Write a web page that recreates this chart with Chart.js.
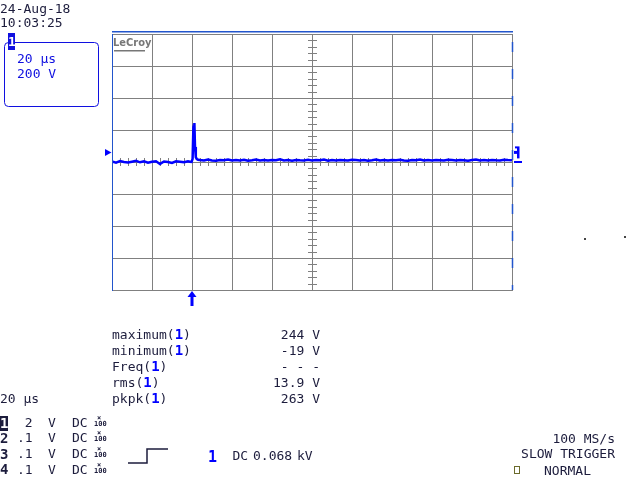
<!DOCTYPE html>
<html>
<head>
<meta charset="utf-8">
<script src="https://cdn.jsdelivr.net/npm/chart.js@4.4.1/dist/chart.umd.min.js"></script>
<style>
html, body { margin: 0; padding: 0; background: #fff; }
#wrap { position: relative; width: 640px; height: 480px; overflow: hidden; }
#scope { position: absolute; left: 0; top: 0; }
.t { position: absolute; font: 13px/13px "DejaVu Sans Mono", monospace; color: #1c1c3c; white-space: pre; }
.blue { color: #1010e0; }
.one { color: #0000ff; font-weight: bold; font-size: 14px; }
.ch { position: absolute; font: bold 14px/14px "DejaVu Sans Mono", monospace; color: #1c1c3c; }
.tiny { position: absolute; font: bold 7px/7px "DejaVu Sans Mono", monospace; color: #1c1c3c; white-space: pre; }
.r { text-align: right; }
</style>
</head>
<body>
<div id="wrap">
	<canvas id="scope" width="640" height="480"></canvas>

	<div class="t" style="left:0;top:2px">24-Aug-18</div>
	<div class="t" style="left:0;top:16px">10:03:25</div>

	<div class="ch" style="left:8px;top:33px;width:7px;height:17px;line-height:17px;background:#1010e0;color:#fff;text-align:center;font-size:13px">1</div>
	<div class="t blue" style="left:17px;top:52px">20 µs</div>
	<div class="t blue" style="left:17px;top:67px">200 V</div>

	<div class="t" style="left:113px;top:37px;font:bold 11px/11px 'DejaVu Sans Condensed',sans-serif;color:#777">LeCroy</div>

	<div class="t" style="left:112px;top:327.5px">maximum(<span class="one">1</span>)</div>
	<div class="t" style="left:112px;top:343.5px">minimum(<span class="one">1</span>)</div>
	<div class="t" style="left:112px;top:359.5px">Freq(<span class="one">1</span>)</div>
	<div class="t" style="left:112px;top:375.5px">rms(<span class="one">1</span>)</div>
	<div class="t" style="left:112px;top:391.5px">pkpk(<span class="one">1</span>)</div>
	<div class="t r" style="left:200px;width:120px;top:327.5px">244 V</div>
	<div class="t r" style="left:200px;width:120px;top:343.5px">-19 V</div>
	<div class="t r" style="left:200px;width:120px;top:359.5px">- - -</div>
	<div class="t r" style="left:200px;width:120px;top:375.5px">13.9 V</div>
	<div class="t r" style="left:200px;width:120px;top:391.5px">263 V</div>

	<div class="t" style="left:0;top:392px">20 µs</div>

	<div class="ch" style="left:0;top:415.5px;width:8px;height:15px;line-height:15px;background:#1c1c3c;color:#fff;text-align:center">1</div>
	<div class="ch" style="left:0;top:430.5px">2</div>
	<div class="ch" style="left:0;top:446.5px">3</div>
	<div class="ch" style="left:0;top:462px">4</div>

	<div class="t" style="left:17px;top:415.5px"> 2</div>
	<div class="t" style="left:17px;top:431.3px">.1</div>
	<div class="t" style="left:17px;top:447.3px">.1</div>
	<div class="t" style="left:17px;top:462.5px">.1</div>
	<div class="t" style="left:48px;top:415.5px">V</div>
	<div class="t" style="left:48px;top:431.3px">V</div>
	<div class="t" style="left:48px;top:447.3px">V</div>
	<div class="t" style="left:48px;top:462.5px">V</div>
	<div class="t" style="left:72px;top:415.5px">DC</div>
	<div class="t" style="left:72px;top:431.3px">DC</div>
	<div class="t" style="left:72px;top:447.3px">DC</div>
	<div class="t" style="left:72px;top:462.5px">DC</div>
	<div class="tiny" style="left:97px;top:414.5px">×</div>
	<div class="tiny" style="left:94px;top:420.5px">100</div>
	<div class="tiny" style="left:97px;top:430px">×</div>
	<div class="tiny" style="left:94px;top:436px">100</div>
	<div class="tiny" style="left:97px;top:446px">×</div>
	<div class="tiny" style="left:94px;top:452px">100</div>
	<div class="tiny" style="left:97px;top:461.5px">×</div>
	<div class="tiny" style="left:94px;top:467.5px">100</div>

	<div class="t" style="left:208px;top:449.5px;color:#0000ff;font-weight:bold;font-size:15px;line-height:15px">1</div>
	<div class="t" style="left:232.5px;top:449px;word-spacing:-3px">DC 0.068 kV</div>

	<div class="t r" style="left:515px;width:100px;top:432.3px">100 MS/s</div>
	<div class="t r" style="left:495px;width:120px;top:447.3px">SLOW TRIGGER</div>
	<div class="t" style="left:544px;top:464px">NORMAL</div>
</div>

<script>
// time base 20 µs/div, 200 V/div
const timeRange = [-40, 160]
const voltRange = [-800, 800]
const timeStep = 20
const voltStep = 200

// channel 1 trace, sample times in µs
const sampleTimes = [
	-40, -38, -36, -34, -32, -30, -28, -26, -24, -22,
	-20, -18, -16, -14, -12, -10, -8, -6, -4, -2,
	-1, -0.2, 0.3, 0.6, 0.9, 1.2, 1.5, 1.9, 2.4, 3,
	4, 6, 8, 10, 12, 14, 16, 18, 20, 22,
	24, 26, 28, 30, 32, 34, 36, 38, 40, 42,
	44, 46, 48, 50, 52, 54, 56, 58, 60, 62,
	64, 66, 68, 70, 72, 74, 76, 78, 80, 82,
	84, 86, 88, 90, 92, 94, 96, 98, 100, 102,
	104, 106, 108, 110, 112, 114, 116, 118, 120, 122,
	124, 126, 128, 130, 132, 134, 136, 138, 140, 142,
	144, 146, 148, 150, 152, 154, 156, 158, 160,
]
// channel 1 volts
const sampleVolts = [
	3, -4, 6, 0, -3, 2, 7, -2, 4, -5,
	1, 5, -12, 3, 0, -6, 4, 2, -2, 5,
	2, 1, 20, 170, 150, 244, 94, 30, 18, 14,
	12, 9, 15, 10, 8, 13, 11, 16, 9, 12,
	10, 14, 8, 11, 15, 10, 12, 9, 13, 11,
	17, 10, 12, 8, 13, 11, 10, 14, 9, 12,
	11, 15, 8, 12, 10, 13, 11, 9, 14, 12,
	10, 13, 8, 11, 16, 10, 12, 9, 13, 11,
	14, 10, 8, 12, 11, 16, 9, 12, 10, 13,
	11, 9, 14, 12, 10, 13, 11, 8, 12, 15,
	10, 12, 9, 13, 11, 10, 14, 12, 11,
]

const GRID = '#808080'
const FRAME = '#2255cc'
const TRACE = '#0000ff'
const INK = '#1c1c3c'

const scopeDecor = {
	id: 'scopeDecor',
	beforeDatasetsDraw(chart) {
		const { ctx, scales: { x, y } } = chart
		const cx = x.getPixelForValue(60)
		const cy = y.getPixelForValue(0)
		ctx.save()
		ctx.strokeStyle = GRID
		ctx.lineWidth = 1
		ctx.beginPath()
		// minor ticks on the centre cross
		for (let v = voltRange[0]; v <= voltRange[1]; v += voltStep / 5) {
			const py = Math.round(y.getPixelForValue(v)) + 0.5
			ctx.moveTo(cx - 4, py)
			ctx.lineTo(cx + 5, py)
		}
		for (let t = timeRange[0]; t <= timeRange[1]; t += timeStep / 5) {
			const px = Math.round(x.getPixelForValue(t)) + 0.5
			ctx.moveTo(px, cy - 4)
			ctx.lineTo(px, cy + 4)
		}
		ctx.stroke()
		ctx.restore()
	},
	afterDatasetsDraw(chart) {
		const { ctx, chartArea: a, scales: { x, y } } = chart
		ctx.save()
		// frame
		ctx.fillStyle = FRAME
		ctx.fillRect(a.left, a.top - 3, a.right - a.left + 1, 1.5)
		ctx.fillRect(a.left, a.top, 1, a.bottom - a.top)
		ctx.strokeStyle = FRAME
		ctx.lineWidth = 1.5
		ctx.setLineDash([10, 17])
		ctx.beginPath()
		ctx.moveTo(a.right + 0.5, a.top + 8)
		ctx.lineTo(a.right + 0.5, a.bottom)
		ctx.stroke()
		ctx.setLineDash([])

		// ground marker left
		const gy = y.getPixelForValue(60)
		ctx.fillStyle = TRACE
		ctx.beginPath()
		ctx.moveTo(105, gy - 3.5)
		ctx.lineTo(105, gy + 3.5)
		ctx.lineTo(111.5, gy)
		ctx.closePath()
		ctx.fill()

		// channel marker right
		const my = y.getPixelForValue(60)
		ctx.fillRect(a.right + 5, my - 6, 2.5, 12)
		ctx.fillRect(a.right + 2, my - 1.5, 3, 3)
		ctx.fillRect(a.right + 3, my - 6, 2, 2)
		ctx.fillRect(a.right + 2, y.getPixelForValue(0) - 1, 8, 2)

		// trigger arrow
		const tx = x.getPixelForValue(0)
		ctx.fillRect(tx - 1.5, a.bottom + 5, 3, 11)
		ctx.beginPath()
		ctx.moveTo(tx - 4.5, a.bottom + 7)
		ctx.lineTo(tx + 4.5, a.bottom + 7)
		ctx.lineTo(tx, a.bottom + 1)
		ctx.closePath()
		ctx.fill()

		// channel box
		ctx.strokeStyle = '#1010e0'
		ctx.lineWidth = 1
		ctx.beginPath()
		ctx.roundRect(4.5, 42.5, 94, 64, 4)
		ctx.stroke()

		// LeCroy underline
		ctx.fillStyle = '#777'
		ctx.fillRect(114, 50, 31, 1.5)

		// trigger slope symbol
		ctx.strokeStyle = INK
		ctx.lineWidth = 1.5
		ctx.beginPath()
		ctx.moveTo(128, 463)
		ctx.lineTo(147, 463)
		ctx.lineTo(147, 449)
		ctx.lineTo(168, 449)
		ctx.stroke()

		// status box and stray dots
		ctx.strokeStyle = '#6b6b2b'
		ctx.lineWidth = 1
		ctx.strokeRect(514.5, 466.5, 5, 7)
		ctx.fillStyle = '#444'
		ctx.fillRect(584, 238, 2, 2)
		ctx.fillRect(624, 236, 2, 2)
		ctx.restore()
	},
}

window.addEventListener('DOMContentLoaded', () => {
	const scopeCtx = document.getElementById('scope')
	new Chart(scopeCtx.getContext('2d'), {
		type: 'line',
		data: {
			datasets: [
				{
					label: 'C1',
					data: sampleTimes.map((t, i) => ({ x: t, y: sampleVolts[i] })),
					borderColor: TRACE,
					borderWidth: 2.5,
					pointRadius: 0,
					tension: 0,
				},
			],
		},
		options: {
			responsive: false,
			animation: false,
			events: [],
			layout: {
				padding: { left: 112, right: 128, top: 34, bottom: 190 },
			},
			plugins: {
				legend: { display: false },
				tooltip: { enabled: false },
			},
			scales: {
				x: {
					type: 'linear',
					min: timeRange[0],
					max: timeRange[1],
					ticks: { display: false, stepSize: timeStep },
					grid: { color: GRID, lineWidth: 1, drawTicks: false },
					border: { color: GRID, width: 1 },
					afterFit: (s) => { s.height = 0 },
				},
				y: {
					min: voltRange[0],
					max: voltRange[1],
					ticks: { display: false, stepSize: voltStep },
					grid: { color: GRID, lineWidth: 1, drawTicks: false },
					border: { color: FRAME, width: 1 },
					afterFit: (s) => { s.width = 0 },
				},
			},
		},
		plugins: [scopeDecor],
	})
})
</script>
</body>
</html>
